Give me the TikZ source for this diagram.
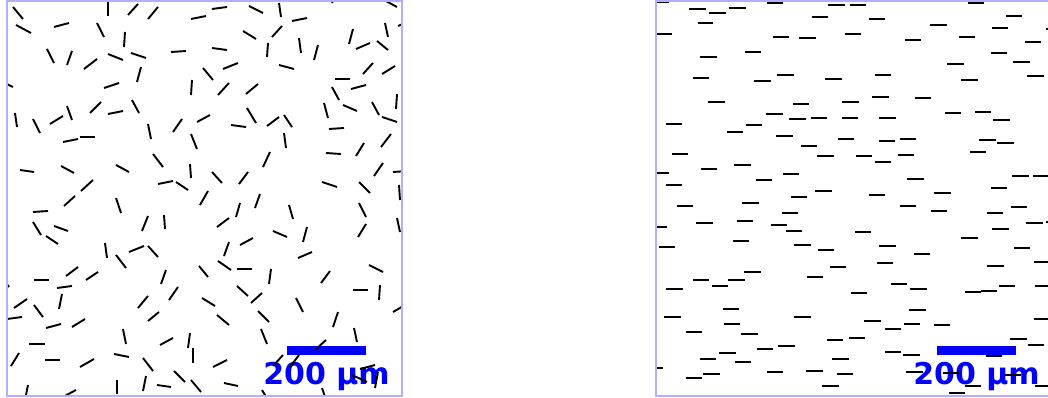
\documentclass[tikz,border=0pt]{standalone}
\usepackage{fontspec}
\newfontfamily\barlabelfont{DejaVu Sans}
\usetikzlibrary{positioning}
\definecolor{framecol}{RGB}{176,176,255}
\definecolor{barblue}{RGB}{0,0,255}

\begin{document}
\begin{tikzpicture}[x=1pt,y=-1pt,
  fib/.style={line width=1.9pt},
  hfib/.style={line width=1.6pt},
  frame/.style={draw=framecol,line width=1.1pt},
  scalebar/.style={fill=barblue},
  barlabel/.style={text=barblue,inner sep=0pt,anchor=base,
    font=\barlabelfont\bfseries\fontsize{30}{30}\selectfont}]

  \useasboundingbox (0,0) rectangle (1048,398);

  % left panel: fibres in all directions
  \begin{scope}
    \clip (7,1) rectangle (402,396);
    \fill[scalebar] (287,346) rectangle (366,355);
    \node[barlabel] (lbarlabel) at (326.5,384) {200 µm};
    \foreach \xa/\ya/\xb/\yb in {
      13/7/23/19, 108/2/108/16, 128/15/138/4, 148/19/158/7, 191/19/206/16,
      16/25/31/33, 54/27/69/23, 97/23/104/37, 125/32/124/47, 47/49/54/63,
      72/51/67/65, 84/69/97/59, 108/54/123/60, 131/53/146/58, 171/52/186/51,
      203/68/213/80, 0/81/13/87, 137/82/141/67, 104/88/119/83, 192/80/191/95,
      15/113/17/127, 33/119/40/133, 50/124/63/116, 67/106/72/120, 90/113/101/102,
      108/114/123/111, 132/100/139/113, 173/132/182/119, 197/122/210/115,
      63/142/78/139, 80/137/95/137, 148/124/151/139, 191/134/197/149,
      20/170/34/172, 61/166/74/173, 116/165/129/172, 153/154/163/167,
      190/164/191/178, 158/184/173/181, 176/182/188/190, 81/191/93/180,
      200/205/208/191, 64/206/75/196, 116/198/121/213,
      212/9/227/7, 249/6/263/13, 279/3/281/17, 292/21/307/18, 243/31/256/39,
      272/37/282/26, 332/3/337/-8, 384/0/397/7, 349/44/353/29, 385/23/388/37,
      398/26/410/21, 356/49/370/43, 377/41/388/50, 212/48/227/50, 267/57/268/43,
      299/38/301/53, 318/45/314/60, 223/69/238/63, 279/65/294/69, 363/74/373/63,
      382/74/395/66, 218/95/229/83, 246/94/258/84, 335/79/350/79, 332/87/339/100,
      351/89/366/85, 247/108/256/123, 231/125/246/127, 267/126/279/117,
      284/115/292/127, 324/103/328/118, 343/105/357/111, 372/102/379/115,
      382/117/397/122, 397/94/396/109, 329/129/344/128, 284/133/286/148,
      263/167/270/152, 326/153/341/154, 356/156/364/143, 381/147/391/134,
      212/172/222/183, 239/184/248/172, 374/176/383/163, 393/172/408/171,
      322/182/337/187, 359/182/370/193, 399/185/400/200, 255/208/260/194,
      33/212/48/211, 33/222/41/235, 54/226/68/231, 46/236/58/244,
      148/216/142/231, 164/215/165/229, 105/243/107/258, 129/252/144/246,
      148/246/158/257, 116/255/126/268, 1/276/9/287, 34/280/49/280,
      66/276/78/267, 86/280/98/272, 57/288/72/286, 166/270/161/284,
      199/266/208/277, 62/294/59/309, 14/308/27/299, 34/305/43/317,
      7/319/22/317, 46/328/61/324, 72/327/85/319, 138/308/148/296,
      169/300/178/287, 202/298/215/306, 148/321/159/312, 123/329/126/344,
      29/344/45/344, 160/345/173/338, 190/333/188/348, 193/348/193/363,
      11/366/19/353, 45/360/60/360, 80/367/94/359, 114/354/129/357,
      143/358/153/371, 174/371/185/382, 191/380/201/392, 25/400/28/385,
      61/398/76/390, 117/394/117/380, 143/391/146/376, 157/385/171/387,
      240/203/236/217, 289/205/293/219, 359/203/366/217, 217/227/229/218,
      273/231/287/237, 307/227/303/242, 366/224/358/237, 397/218/400/232,
      229/242/224/256, 240/245/253/238, 298/258/312/252, 218/261/231/270,
      237/269/252/269, 271/269/269/284, 330/271/321/283, 369/265/383/272,
      353/290/368/290, 380/285/379/300, 237/286/248/296, 251/303/262/293,
      296/298/303/312, 217/315/229/325, 258/311/269/322, 393/312/405/305,
      338/312/333/327, 261/329/267/344, 354/328/357/342, 315/350/326/340,
      213/367/227/360, 224/383/238/386, 273/366/283/355, 290/367/299/355,
      352/375/367/382, 360/369/375/365, 378/372/375/388, 262/390/268/400,
      322/388/326/400}
      \draw[fib] (\xa,\ya) -- (\xb,\yb);
  \end{scope}
  \draw[frame] (7,1) rectangle (402,396);

  % right panel: aligned fibres
  \begin{scope}
    \clip (656,1) rectangle (1051,396);
    \fill[scalebar] (937,346) rectangle (1016,355);
    \node[barlabel] (rbarlabel) at (976.5,384) {200 µm};
    \foreach \xa/\xb/\y in {
      650/669/2, 689/706/9, 709/726/13, 729/746/8, 767/783/3, 828/845/5,
      698/713/23, 812/828/17, 656/672/34, 773/789/37, 799/816/38, 845/861/34,
      745/761/52, 700/717/57, 693/709/78, 754/771/81, 777/794/75, 825/842/79,
      708/725/102, 793/809/104, 842/859/102, 766/783/114, 789/806/119,
      811/827/118, 842/858/118, 666/682/124, 746/762/125, 727/743/132,
      776/793/136, 838/854/139, 801/817/146, 672/688/154, 817/834/156,
      734/751/165, 701/717/169, 653/669/173, 783/799/174, 756/772/180,
      666/682/185, 815/832/191, 791/807/197,
      850/866/5, 968/984/3, 1028/1044/1, 869/885/19, 1006/1022/16, 930/947/25,
      992/1008/28, 1046/1062/29, 905/921/40, 959/975/37, 1025/1041/42,
      991/1007/53, 947/964/64, 1013/1030/62, 875/891/75, 961/978/80,
      1027/1044/76, 872/889/97, 915/931/98, 945/961/113, 975/991/112,
      993/1010/120, 879/896/118, 900/916/139, 879/895/141, 979/996/140,
      997/1014/143, 856/872/156, 898/914/155, 875/891/162, 970/986/152,
      907/924/179, 1012/1029/176, 1033/1049/176, 869/885/195, 934/951/193,
      991/1007/188,
      677/693/206, 742/759/203, 782/798/213, 651/667/227, 696/713/223,
      737/753/221, 771/787/225, 786/802/231, 733/749/241, 659/675/247,
      794/811/245, 818/834/250, 830/846/267, 744/761/272, 693/709/280,
      728/745/280, 807/823/277, 712/728/286, 666/683/289, 723/739/309,
      664/681/317, 794/811/317, 724/740/324, 686/702/332, 741/758/334,
      827/843/340, 849/865/338, 778/795/346, 757/773/349, 719/736/353,
      700/716/359, 735/751/362, 832/849/359, 647/663/368, 703/720/374,
      686/702/378, 767/783/372, 806/823/371, 837/853/374, 822/839/386,
      673/689/396,
      900/916/206, 931/947/211, 987/1003/213, 1011/1027/207, 1026/1043/223,
      1046/1062/222, 855/871/232, 992/1009/229, 961/978/238, 879/896/246,
      914/930/254, 1014/1030/248, 877/893/263, 987/1004/266, 1034/1050/262,
      891/907/284, 910/927/289, 851/867/293, 965/981/292, 981/997/291,
      999/1015/286, 1035/1051/286, 909/926/310, 864/881/321, 885/901/329,
      904/920/324, 934/950/325, 1034/1050/319, 1010/1027/339, 1028/1044/345,
      885/901/352, 903/920/355, 986/1002/356, 906/923/372, 943/959/373,
      1005/1021/375, 965/981/386, 949/965/393, 1035/1051/386}
      \draw[hfib] (\xa,\y) -- (\xb,\y);
  \end{scope}
  \draw[frame] (656,1) rectangle (1051,396);
\end{tikzpicture}
\end{document}
